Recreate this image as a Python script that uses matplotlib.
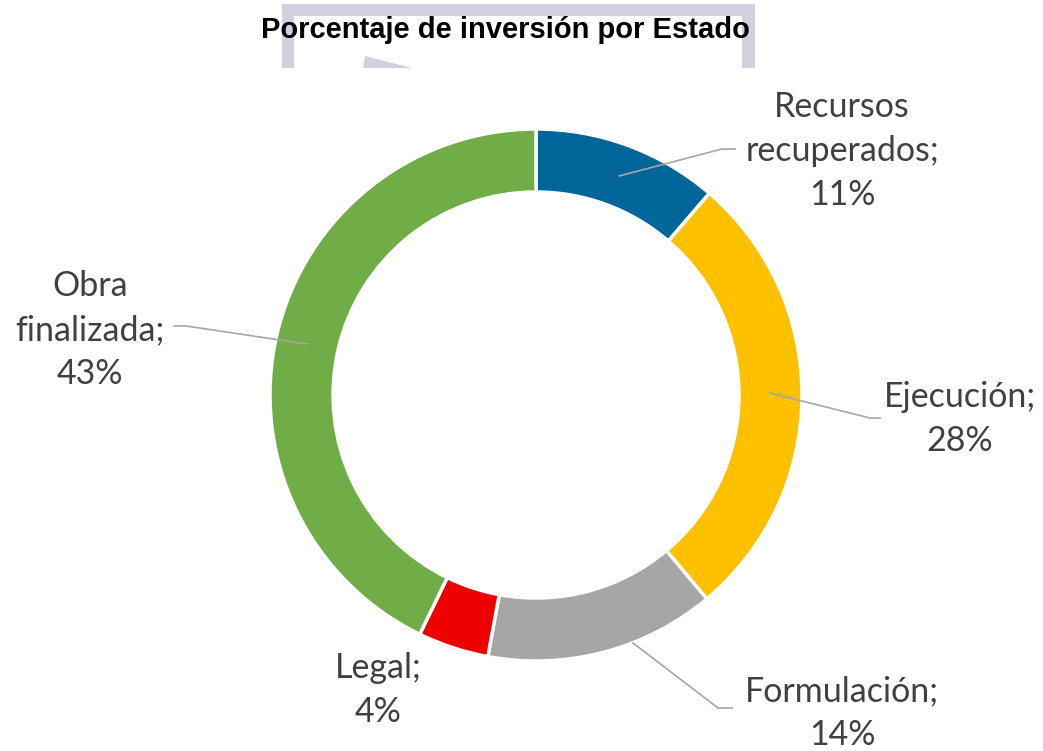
import matplotlib
matplotlib.use('Agg')
import matplotlib.pyplot as plt
from matplotlib.patches import Rectangle, Polygon

matplotlib.rcParams.update({
    'font.family': ['Lato', 'DejaVu Sans'],
})

# data
estados = ['Recursos\nrecuperados', 'Ejecución', 'Formulación', 'Legal', 'Obra\nfinalizada']
porcentajes = [11.3, 27.6, 14.0, 4.3, 42.8]
etiquetas = ['11%', '28%', '14%', '4%', '43%']
colores = ['#006699', '#ffc000', '#a6a6a6', '#ee0000', '#70ad47']

W, H = 1043, 751
fig = plt.figure(figsize=(W / 100, H / 100), dpi=100)
ax = fig.add_axes([0, 0, 1, 1])

# donut, pixel layout (y measured from top, flipped below)
cx, cy, R = 536, 395, 266
ax.pie(porcentajes, colors=colores, startangle=90, counterclock=False,
       center=(cx, H - cy), radius=R,
       wedgeprops=dict(width=63, edgecolor='white', linewidth=2.5))
ax.set_xlim(0, W)
ax.set_ylim(0, H)
ax.set_aspect('equal')
ax.axis('off')

# label positions and leader lines (pixels from top-left)
label_pos = [(842, 151), (960, 419), (842, 713), (378, 690), (90, 330)]
leaders = [
    [(619, 176), (722, 149), (735, 149)],
    [(770, 393), (870, 418), (880, 418)],
    [(633, 643), (718, 708), (732, 708)],
    None,
    [(307, 344), (186, 326), (174, 326)],
]
for nombre, pct, (lx, ly), pts in zip(estados, etiquetas, label_pos, leaders):
    ax.text(lx, H - ly, f'{nombre};\n{pct}', ha='center', va='center',
            fontsize=24.5, color='#404040', linespacing=1.45)
    if pts:
        ax.plot([p[0] for p in pts], [H - p[1] for p in pts],
                color='#a6a6a6', lw=1.2)

# decorative frame behind the title
deco = '#d1d0de'
ax.add_patch(Rectangle((282, H - 16), 473, 12, color=deco, lw=0))
ax.add_patch(Rectangle((282, H - 68), 12, 64, color=deco, lw=0))
ax.add_patch(Rectangle((742, H - 68), 13, 64, color=deco, lw=0))
ax.add_patch(Polygon([(365, H - 56), (412, H - 68), (363, H - 68)],
                     closed=True, color=deco, lw=0))

ax.text(505, H - 30, 'Porcentaje de inversión por Estado', ha='center',
        va='center', fontsize=21, fontweight='bold', color='black',
        family='Liberation Sans')

fig.savefig('out.png', dpi=100)
